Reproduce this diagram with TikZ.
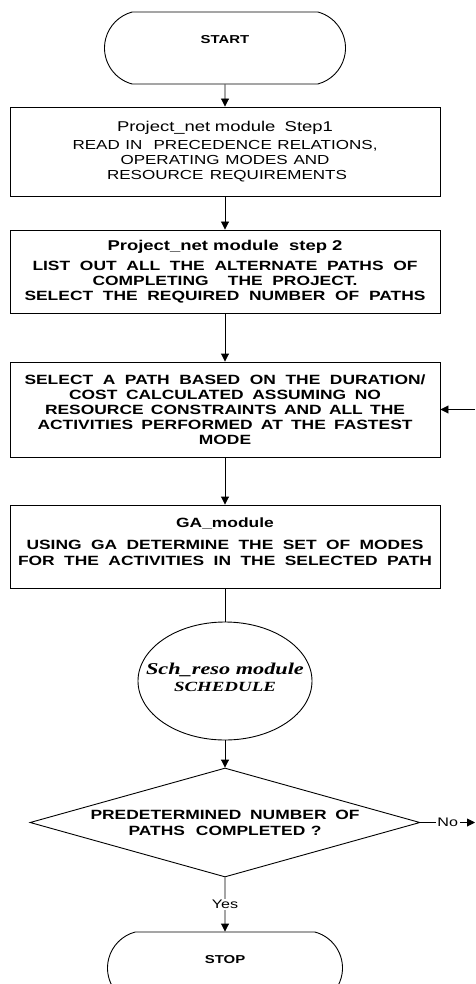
\documentclass[tikz,border=0pt]{standalone}
\usepackage{fontspec}
\setmainfont{Liberation Sans}
\newfontfamily\wsans[FakeStretch=1.3]{Liberation Sans}
\newfontfamily\wserif[FakeStretch=1.35]{Liberation Serif}
\usetikzlibrary{arrows.meta,shapes.geometric,shapes.misc}
\newcommand\wl[2]{\makebox[#1pt][s]{#2}}
\begin{document}
\begin{tikzpicture}[x=1pt,y=-1pt,
  line width=0.9pt,
  arr/.style={-{Triangle[length=8pt,width=8pt]}},
  procbox/.style={draw, rectangle, minimum width=430pt, inner sep=0pt, align=center},
  boldtxt/.style={font=\wsans\bfseries\fontsize{13.4}{15}\selectfont},
  regtxt/.style={font=\wsans\fontsize{13.1}{15}\selectfont},
  term/.style={draw, rounded rectangle, rounded rectangle arc length=150, inner sep=0pt,
    font=\wsans\bfseries\fontsize{11.5}{13}\selectfont},
  lbl/.style={fill=white, inner sep=1.5pt, font=\wsans\fontsize{12.4}{14}\selectfont},
]
\useasboundingbox (0,0) rectangle (475,984);

\node[term, minimum width=241pt, minimum height=72pt, text height=8pt, text depth=16pt] (start) at (225,48) {START};

\node[procbox, regtxt, minimum height=89pt] (b1) at (225,151.5)
 {{\fontsize{14.2}{15}\selectfont\wl{216}{Project\_net module\ \ Step1}}\\[2.5pt]
  \wl{305}{READ IN\ \ PRECEDENCE RELATIONS,}\\
  \wl{209}{OPERATING MODES AND}\\
  \wl{236}{RESOURCE\ \ REQUIREMENTS}};

\node[procbox, boldtxt, minimum height=83pt] (b2) at (225,271.5)
 {{\fontsize{14.2}{15}\selectfont Project\_net module\ \ step 2}\\[5.6pt]
  \wl{385}{LIST OUT ALL THE ALTERNATE PATHS OF}\\
  \wl{265}{COMPLETING\ \ THE PROJECT.}\\
  \wl{401}{SELECT THE REQUIRED NUMBER OF PATHS}};

\node[procbox, boldtxt, minimum height=95pt] (b3) at (225,409.5)
 {\wl{401}{SELECT A PATH BASED ON THE DURATION/}\\
  \wl{312}{COST CALCULATED ASSUMING NO}\\
  \wl{360}{RESOURCE CONSTRAINTS AND ALL THE}\\
  \wl{375}{ACTIVITIES PERFORMED AT THE FASTEST}\\
  MODE};

\node[procbox, boldtxt, minimum height=83pt] (b4) at (225,546.5)
 {GA\_module\\[7pt]
  \wl{397}{USING GA DETERMINE THE SET OF MODES}\\[1pt]
  \wl{414}{FOR THE ACTIVITIES IN THE SELECTED PATH}\rule[-9pt]{0pt}{9pt}};

\node[draw, ellipse, minimum width=174pt, minimum height=118pt, inner sep=0pt] (sch) at (225,681) {};
\node[font=\wserif\bfseries\itshape\fontsize{16.5}{17}\selectfont, align=center, inner sep=0pt] (schtxt) at (225,677)
 {Sch\_reso module\\{\fontsize{14}{17}\selectfont SCHEDULE}};

\node[draw, diamond, minimum width=390pt, minimum height=109pt, inner sep=0pt, shape aspect=3.58,
  boldtxt, align=center] (dec) at (225,822.5)
 {\wl{269}{PREDETERMINED NUMBER OF}\\[1pt]\wl{193}{PATHS\ \ COMPLETED ?}};

\node[term, minimum width=235pt, minimum height=72pt, text height=8pt, text depth=18pt] (stop) at (225,968) {STOP};

\coordinate (noend) at (475,822.5);
\coordinate (fbin) at (475,409.5);

\draw[arr] (start) -- (b1);
\draw[arr] (b1) -- (b2);
\draw[arr] (b2) -- (b3);
\draw[arr] (b3) -- (b4);
\draw (b4) -- (sch);
\draw[arr] (sch) -- (dec);
\draw[arr] (dec) -- node[lbl] (yes) {Yes} (stop);
\draw[arr] (dec.east) -- node[lbl] (no) {No} (noend);
\draw[arr] (fbin) -- (b3.east);
\end{tikzpicture}
\end{document}
